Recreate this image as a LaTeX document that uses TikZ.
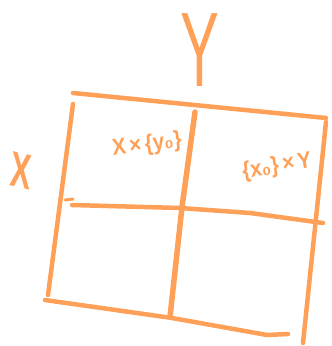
\documentclass[tikz,border=0pt]{standalone}
\usepackage{fontspec}
\setmainfont{Liberation Sans}
\definecolor{skOrange}{RGB}{255,160,88}

\begin{document}
\begin{tikzpicture}[
  x=1pt, y=-1pt,
  pen/.style={draw=skOrange, line width=4.5pt, line cap=round, line join=round},
  ink/.style={text=skOrange, inner sep=0pt},
  axis/.style={ink, font=\fontsize{#1}{#1}\selectfont},
  cell/.style={ink, font=\fontsize{23}{23}\selectfont\bfseries},
]
\useasboundingbox[fill=white] (0,0) rectangle (332,346);

% ---------------- grid ----------------
\draw[pen] (73,93) -- (326,118);
\draw[pen] (326,122) -- (303,343);
\draw[pen] (73,104) -- (48,295);
\draw[pen, line width=5.5pt] (195,112) -- (182,207) -- (170,317);
\draw[pen] (72,205) -- (180,208) -- (250,213) -- (323,223);
\draw[pen] (45,300) -- (172,318) -- (267,335) -- (288,334);
\draw[pen, line width=3pt] (65,200) -- (73,199);

% ---------------- labels ----------------
\node[axis=106, xscale=0.55] (lblY) at (200,50) {Y};
\node[ink, font={\fontsize{50}{50}\selectfont\bfseries}, xscale=0.62, rotate=-8] (lblX) at (21,171) {X};
\node[cell, xscale=0.9, rotate=7] (cellA) at (147,145) {X\,×\,\{y₀\}};
\node[cell, xscale=0.9, rotate=9] (cellB) at (277,167) {\{x₀\}\,×\,Y};
\end{tikzpicture}
\end{document}
